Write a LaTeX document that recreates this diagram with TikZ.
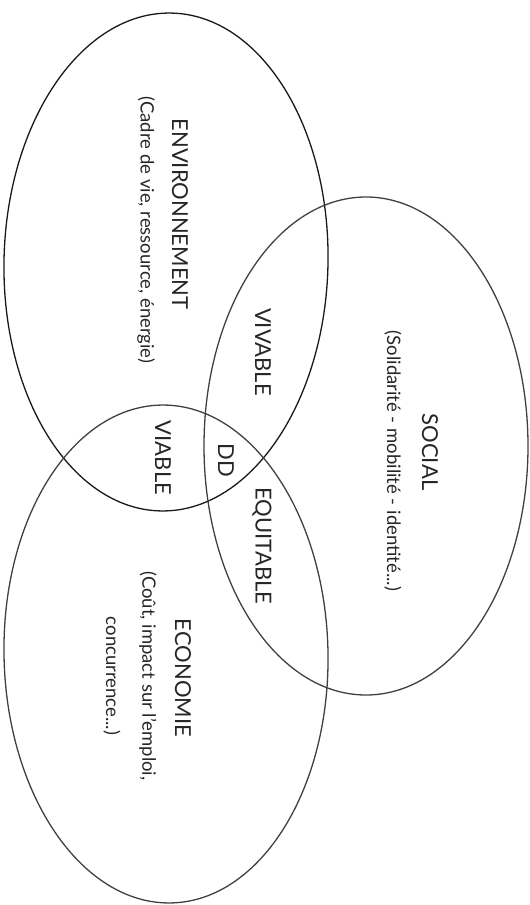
\documentclass[tikz,border=0pt]{standalone}
\usepackage{fontspec}
\setmainfont{Lato}
\usetikzlibrary{shapes.geometric}
\begin{document}
\begin{tikzpicture}[x=1pt,y=-1pt,
  circ/.style={ellipse, draw=black!75, line width=1.3pt, minimum width=324pt, minimum height=498pt, inner sep=0pt},
  big/.style={rotate=-90, inner sep=0pt, text=black!85, font=\fontsize{22}{25}\selectfont},
  small/.style={rotate=-90, inner sep=0pt, text=black!85, font=\fontsize{18.5}{21}\selectfont}]
\useasboundingbox (0,0) rectangle (530,905);
\node[circ, draw=black!90, rotate=-1.3] (env) at (166,262) {};
\node[circ] (soc) at (366,446) {};
\node[circ, rotate=1.2] (eco) at (166,654) {};
% Environnement
\node[big] (envt) at (180,214) {ENVIRONNEMENT};
\node[small] (envs) at (146,230) {(Cadre de vie, ressource, énergie)};
% Social
\node[big] (soct) at (430,452) {SOCIAL};
\node[small] (socs) at (393,461) {(Solidarité - mobilité - identité...)};
% Economie
\node[big] (ecot) at (183,678) {ECONOMIE};
\node[small] (ecos1) at (148,676) {(Coût, impact sur l'emploi,};
\node[small] (ecos2) at (112,676) {concurrence...)};
% Intersections
\node[big] (viv) at (263,352) {VIVABLE};
\node[big] (via) at (163,458) {VIABLE};
\node[big] (equ) at (262,546) {EQUITABLE};
\node[big] (dd) at (226,460) {DD};
\end{tikzpicture}
\end{document}
